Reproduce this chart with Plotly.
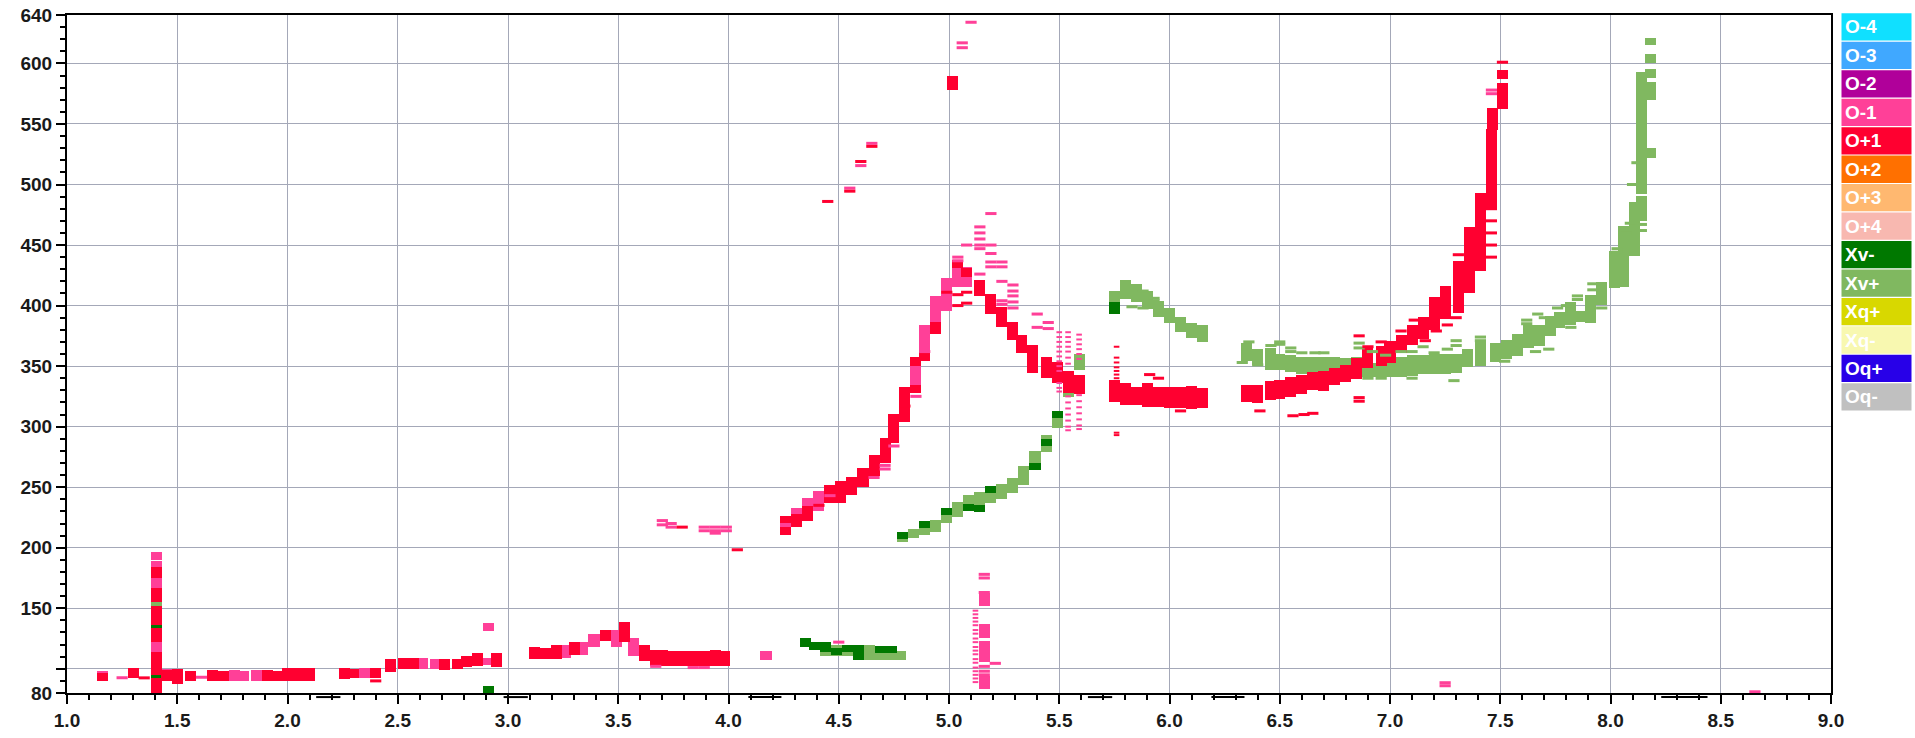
import plotly.graph_objects as go

# ---------------- data ----------------
x_ticks = [1.0, 1.5, 2.0, 2.5, 3.0, 3.5, 4.0, 4.5, 5.0, 5.5, 6.0, 6.5, 7.0, 7.5, 8.0, 8.5, 9.0]
y_ticks = [80, 100, 150, 200, 250, 300, 350, 400, 450, 500, 550, 600, 640]
y_tick_text = ["80", "", "150", "200", "250", "300", "350", "400", "450", "500", "550", "600", "640"]

legend_labels = ["O-4", "O-3", "O-2", "O-1", "O+1", "O+2", "O+3", "O+4",
                 "Xv-", "Xv+", "Xq+", "Xq-", "Oq+", "Oq-"]
legend_colors = ["#10E0FF", "#40A8FF", "#B0009A", "#FF4098", "#FF0030", "#FF7000", "#FFB870", "#F8B8B0",
                 "#007800", "#80B860", "#D8D800", "#F8F8B0", "#2800E8", "#C0C0C0"]

# O+1 (red) blocks: (x, low, high) -- low/high are the centres of the outermost dashes
red_blocks = [
    (1.16, 92, 95), (1.30, 94, 99),
    (1.405, 80, 91), (1.405, 97, 112), (1.405, 124, 132), (1.405, 138, 150), (1.405, 157, 165), (1.405, 177, 182),
    (1.45, 92, 97), (1.50, 89, 98), (1.56, 92, 96), (1.66, 92, 97), (1.71, 92, 96), (1.91, 92, 97),
    (1.95, 92, 96), (2.00, 92, 99), (2.05, 92, 99), (2.10, 92, 99),
    (2.26, 93, 99), (2.30, 94, 98), (2.40, 94, 99), (2.465, 99, 106), (2.525, 102, 107), (2.57, 102, 107),
    (2.71, 101, 106), (2.77, 102, 106), (2.81, 103, 109), (2.86, 104, 111), (2.95, 103, 111),
    (3.12, 110, 116), (3.17, 110, 115), (3.22, 110, 118), (3.30, 113, 120), (3.44, 125, 130), (3.53, 124, 137),
    (3.62, 108, 118), (3.67, 104, 114), (3.70, 104, 114), (3.75, 104, 113), (3.79, 104, 113), (3.84, 104, 113),
    (3.89, 104, 113), (3.94, 104, 114), (3.98, 104, 113),
    (4.26, 212, 215), (4.26, 222, 224), (4.31, 219, 226), (4.36, 224, 233), (4.46, 239, 250), (4.51, 239, 253),
    (4.56, 245, 257), (4.61, 252, 264), (4.66, 261, 275), (4.71, 272, 289), (4.75, 288, 309), (4.80, 306, 331),
    (4.85, 352, 356), (4.85, 330, 333), (4.89, 356, 360), (4.94, 378, 385), (5.04, 433, 436), (5.08, 425, 429),
    (5.14, 410, 419), (5.19, 395, 408), (5.24, 384, 397), (5.29, 373, 385), (5.33, 363, 374), (5.38, 353, 366),
    (5.38, 346, 350), (5.44, 342, 356), (5.49, 338, 352), (5.54, 330, 344), (5.59, 329, 341),
    (5.015, 580, 588),
    (5.75, 322, 337), (5.80, 320, 334), (5.85, 320, 331), (5.90, 318, 334), (5.95, 318, 331), (6.00, 317, 331),
    (6.05, 317, 331), (6.10, 316, 332), (6.15, 317, 330),
    (6.35, 322, 333), (6.40, 321, 333), (6.46, 324, 336), (6.50, 325, 337), (6.55, 326, 339), (6.60, 329, 341),
    (6.65, 332, 343), (6.70, 331, 344), (6.75, 336, 347), (6.80, 339, 349), (6.85, 341, 355), (6.90, 350, 363),
    (6.96, 352, 365), (7.00, 354, 369), (7.05, 363, 374), (7.10, 369, 382), (7.15, 374, 389), (7.20, 382, 405),
    (7.25, 391, 414), (7.31, 396, 435), (7.36, 412, 453), (7.36, 457, 463), (7.41, 430, 491), (7.46, 482, 544),
    (7.465, 547, 561), (7.51, 564, 582), (7.51, 589, 593),
]
red_dashes = [
    (1.35, 92.5), (2.40, 90), (3.79, 217), (4.04, 198.3), (4.41, 235), (4.45, 486), (4.55, 494.5), (4.60, 519),
    (4.65, 531.5), (4.80, 317), (4.99, 411), (5.04, 409), (5.04, 400), (5.08, 411), (5.08, 402), (5.91, 343),
    (5.95, 340), (6.05, 313), (6.41, 313), (6.56, 309), (6.61, 310), (6.65, 311), (6.86, 375), (6.86, 324),
    (6.86, 321), (7.46, 480), (7.46, 470), (7.46, 460), (7.46, 450), (7.46, 440), (7.51, 601), (7.21, 379),
    (7.26, 384), (7.16, 371), (7.31, 442), (6.96, 370), (7.05, 379), (7.11, 388), (7.30, 390), (6.90, 366),
]
red_dots = [
    (5.76, 366), (5.76, 357), (5.76, 353), (5.76, 349), (5.76, 346), (5.76, 343), (5.76, 340), (5.76, 295), (5.76, 293),
]

# O-1 (pink)
pink_blocks = [
    (1.16, 94, 96.5), (1.405, 165, 171), (1.405, 173, 175), (1.405, 185, 187), (1.405, 192, 195), (1.405, 112, 120),
    (1.45, 95, 98), (1.76, 92, 97), (1.80, 92, 96), (1.86, 92, 97), (2.35, 94, 99), (2.61, 102, 107), (2.67, 102, 106),
    (2.91, 133, 136), (2.91, 105, 107), (3.26, 111, 118), (3.34, 113, 120), (3.39, 120, 127), (3.49, 120, 130),
    (3.57, 112, 124), (4.17, 109, 113),
    (4.26, 214, 222), (4.31, 226, 231), (4.36, 232, 239), (4.41, 232, 245), (4.85, 333, 352), (4.89, 360, 382),
    (4.94, 386, 406), (4.99, 397, 421), (5.04, 417, 432), (5.08, 417, 430),
    (5.16, 154, 161), (5.16, 127, 135), (5.16, 107, 121), (5.16, 85, 92),
]
pink_dashes = [
    (1.25, 92.6), (1.61, 93), (3.70, 222.4), (3.70, 218.9), (3.74, 220), (3.74, 217), (3.89, 217), (3.89, 214),
    (3.94, 217), (3.94, 214), (3.94, 212), (3.99, 217), (3.99, 214), (3.67, 102), (3.84, 101), (3.89, 101),
    (4.46, 243), (4.55, 497), (4.60, 515.6), (4.65, 534), (4.66, 258), (4.71, 268), (4.71, 265), (4.75, 284),
    (4.85, 325), (4.89, 362), (5.04, 440), (5.04, 437), (5.08, 450), (5.14, 465), (5.14, 460), (5.14, 455),
    (5.14, 450), (5.14, 447), (5.14, 426), (5.19, 476), (5.19, 450), (5.19, 443), (5.19, 436), (5.19, 432),
    (5.24, 436), (5.24, 432), (5.24, 420), (5.24, 404), (5.24, 401), (5.29, 417), (5.29, 412), (5.29, 408),
    (5.29, 403), (5.29, 398), (5.40, 393), (5.40, 382), (5.45, 386), (5.45, 381), (5.06, 613), (5.06, 617),
    (5.10, 634), (7.46, 578), (7.46, 575), (7.25, 86), (7.25, 88.5), (8.655, 81), (5.16, 178), (5.16, 175),
    (5.16, 163), (5.16, 102), (5.16, 98), (5.16, 95), (5.21, 104.5), (4.50, 122),
]
pink_dots = [
    (5.12, 148), (5.12, 145), (5.12, 142), (5.12, 139), (5.12, 136), (5.12, 132), (5.12, 129), (5.12, 125),
    (5.12, 122), (5.12, 118), (5.12, 115), (5.12, 112), (5.12, 108), (5.12, 105), (5.12, 101), (5.12, 98),
    (5.12, 95), (5.12, 92), (5.12, 89),
    (5.50, 378), (5.50, 374), (5.50, 370), (5.50, 366), (5.50, 362), (5.50, 358), (5.50, 354), (5.50, 350),
    (5.50, 346), (5.50, 336), (5.50, 332), (5.50, 329),
    (5.54, 378), (5.54, 374), (5.54, 370), (5.54, 366), (5.54, 362), (5.54, 357), (5.54, 352), (5.54, 325),
    (5.54, 320), (5.54, 315), (5.54, 310), (5.54, 305), (5.54, 300), (5.54, 297),
    (5.59, 376), (5.59, 372), (5.59, 368), (5.59, 364), (5.59, 360), (5.59, 356), (5.59, 326), (5.59, 321),
    (5.59, 316), (5.59, 311), (5.59, 306), (5.59, 301), (5.59, 298),
]

# Xv+ (light green)
lgreen_blocks = [
    (1.405, 150, 154), (1.405, 122, 124), (1.405, 93, 97),
    (4.44, 112, 119), (4.49, 112, 118), (4.54, 112, 118), (4.59, 110, 118), (4.64, 109, 118), (4.69, 109, 116),
    (4.74, 109, 113), (4.78, 109, 113),
    (4.79, 206.5, 209), (4.84, 209.7, 214), (4.89, 212, 218), (4.94, 215, 221), (4.99, 222, 231), (5.04, 227, 236),
    (5.09, 232, 242), (5.14, 235, 244), (5.19, 239, 246), (5.24, 242, 251), (5.29, 247, 256), (5.34, 254, 266),
    (5.39, 267, 278), (5.44, 281, 291), (5.49, 301, 311), (5.54, 326, 331), (5.59, 349, 358),
    (5.75, 400, 410), (5.80, 407, 419), (5.85, 405, 416), (5.90, 399, 410), (5.95, 392, 402), (6.00, 387, 396),
    (6.05, 380, 389), (6.10, 375, 384), (6.15, 372, 382),
    (6.35, 356, 367), (6.40, 353, 362), (6.46, 349, 363), (6.50, 349, 358), (6.55, 347, 357), (6.60, 345.5, 356),
    (6.65, 345.5, 356), (6.70, 345.5, 356), (6.75, 346, 356), (6.80, 346, 355), (6.85, 345, 356), (6.90, 343, 351),
    (6.95, 343, 351), (7.00, 343, 351), (7.05, 343, 356), (7.10, 344, 357), (7.15, 345, 357), (7.20, 345, 358),
    (7.25, 345, 358), (7.30, 346, 358), (7.35, 351, 362), (7.41, 352, 368), (7.48, 355, 367), (7.53, 358, 370),
    (7.58, 360, 375), (7.63, 367, 382), (7.68, 368, 382), (7.73, 377, 390), (7.77, 383, 393), (7.82, 386, 401),
    (7.87, 388, 394), (7.91, 387, 407), (7.96, 402, 418), (8.02, 416, 443), (8.06, 417, 464), (8.11, 443, 484),
    (8.14, 472, 489), (8.14, 494, 528), (8.14, 531, 591), (8.18, 524, 528), (8.18, 572, 583), (8.18, 590, 594),
    (8.18, 602, 606), (8.18, 617, 619),
]
lgreen_dashes = [
    (6.36, 370), (6.33, 353), (6.40, 351), (6.46, 367), (6.50, 368), (6.50, 370), (6.55, 365), (6.55, 362),
    (6.60, 361), (6.66, 361), (6.70, 361), (6.86, 369), (6.86, 365), (6.92, 362), (6.98, 359), (7.05, 362),
    (7.10, 362), (7.15, 366), (7.20, 361), (7.26, 364), (7.30, 367), (7.30, 371), (7.41, 374), (7.41, 371),
    (6.90, 340), (6.96, 340), (7.10, 340), (7.29, 338), (7.52, 354), (7.62, 385), (7.62, 388), (7.67, 393),
    (7.70, 390), (7.76, 398), (7.80, 400), (7.85, 405), (7.85, 408), (7.92, 413), (7.92, 418), (8.03, 447),
    (8.03, 444), (8.07, 460), (8.09, 468), (8.10, 500), (8.12, 518), (5.83, 399), (5.88, 412), (5.93, 406),
    (5.93, 404), (5.88, 398), (7.66, 362), (7.72, 364), (7.82, 382), (7.96, 398), (8.14, 467), (8.14, 462),
]

# Xv- (dark green)
dgreen_blocks = [
    (1.405, 134, 136), (1.405, 116, 122), (1.405, 111, 113), (1.405, 91, 93), (2.91, 81, 84),
    (4.35, 119.5, 124), (4.39, 117.5, 120), (4.44, 116, 120), (4.49, 113, 115), (4.54, 116, 118), (4.59, 109, 112),
    (4.59, 116, 118), (4.69, 115, 117), (4.74, 115, 117),
    (4.79, 209, 211), (4.89, 218, 220), (4.99, 229, 231), (5.09, 232.5, 234.5), (5.14, 231.5, 233.5),
    (5.19, 247, 249), (5.39, 266, 268), (5.44, 286, 288), (5.49, 309, 311), (5.75, 395, 401),
]

# small brackets drawn just under the x axis: (start, end)
axis_brackets = [(2.13, 2.24), (2.98, 3.09), (4.09, 4.24), (5.63, 5.74), (6.19, 6.34), (8.23, 8.44)]

# ---------------- figure ----------------
RED, PINK, LGREEN, DGREEN = legend_colors[4], legend_colors[3], legend_colors[9], legend_colors[8]
BAR_W = 0.05       # block width in x units
HALF_DASH = 1.8    # half the thickness of one dash, in y units (blocks are stacks of dashes)
DASH_LEN, DASH_THICK = 8, 3

fig = go.Figure()


def add_blocks(blocks, color):
    xs = [b[0] for b in blocks]
    lo = [b[1] - HALF_DASH for b in blocks]
    hi = [b[2] + HALF_DASH for b in blocks]
    fig.add_trace(go.Bar(x=xs, y=[h - l for l, h in zip(lo, hi)], base=lo, width=BAR_W,
                         marker=dict(color=color, line=dict(width=0)), showlegend=False,
                         hoverinfo="skip"))


def add_dashes(points, color, length, thick):
    fig.add_trace(go.Scatter(x=[p[0] for p in points], y=[p[1] for p in points], mode="markers",
                             marker=dict(symbol="line-ew", size=length,
                                         line=dict(color=color, width=thick)),
                             showlegend=False, hoverinfo="skip"))


add_blocks(lgreen_blocks, LGREEN)
add_dashes(lgreen_dashes, LGREEN, DASH_LEN, DASH_THICK)
add_blocks(dgreen_blocks, DGREEN)
add_blocks(pink_blocks, PINK)
add_dashes(pink_dashes, PINK, DASH_LEN, DASH_THICK)
add_dashes(pink_dots, PINK, 4, 2)
add_blocks(red_blocks, RED)
add_dashes(red_dashes, RED, DASH_LEN, DASH_THICK)
add_dashes(red_dots, RED, 4, 2)

axis_font = dict(family="Liberation Sans, Arial, sans-serif", size=19, color="#1a1a1a", weight="bold")
grid_col = "#A4A8B8"

fig.update_layout(
    width=1915, height=738,
    margin=dict(l=67, r=84, t=15, b=45, autoexpand=False),
    paper_bgcolor="white", plot_bgcolor="white",
    barmode="overlay", bargap=0,
    showlegend=False,
    xaxis=dict(range=[1, 9], tickvals=x_ticks, ticktext=[f"{v:.1f}" for v in x_ticks],
               automargin=False,
               showgrid=True, gridcolor=grid_col, gridwidth=1,
               showline=True, linecolor="black", linewidth=2, mirror=True,
               ticks="outside", ticklen=9, tickwidth=2, tickcolor="black",
               minor=dict(dtick=0.1, tick0=1, ticks="outside", ticklen=5, tickwidth=1.5,
                          tickcolor="black", showgrid=False),
               zeroline=False, tickfont=axis_font),
    yaxis=dict(range=[80, 640], tickvals=y_ticks, ticktext=y_tick_text,
               automargin=False,
               showgrid=True, gridcolor=grid_col, gridwidth=1,
               showline=True, linecolor="black", linewidth=2, mirror=True,
               ticks="outside", ticklen=9, tickwidth=2, tickcolor="black",
               minor=dict(dtick=10, tick0=80, ticks="outside", ticklen=5, tickwidth=1.5,
                          tickcolor="black", showgrid=False),
               zeroline=False, tickfont=axis_font),
)

# brackets under the x axis
for a, b in axis_brackets:
    fig.add_shape(type="line", xref="x", yref="paper", x0=a, x1=b, y0=-0.006, y1=-0.006,
                  line=dict(color="black", width=2))

# legend as coloured boxes with white labels
plot_w = 1915 - 67 - 84
plot_h = 738 - 15 - 45
box_x0 = (1841.5 - 67) / plot_w
box_x1 = (1911.5 - 67) / plot_w
pitch = 28.46
box_h = 27.3
for i, (lab, col) in enumerate(zip(legend_labels, legend_colors)):
    top_px = 13.3 + i * pitch
    y1 = (738 - 45 - top_px) / plot_h
    y0 = (738 - 45 - top_px - box_h) / plot_h
    fig.add_shape(type="rect", xref="paper", yref="paper", x0=box_x0, x1=box_x1, y0=y0, y1=y1,
                  fillcolor=col, line=dict(width=0), layer="above")
    fig.add_annotation(xref="paper", yref="paper", x=box_x0 + 1.5 / plot_w, y=(y0 + y1) / 2,
                       text=lab, showarrow=False, xanchor="left", yanchor="middle",
                       font=dict(family="Liberation Sans, Arial, sans-serif", size=19,
                                 color="white", weight="bold"))

fig.write_html("out.html", config={"displayModeBar": False},
               post_script="document.body.style.margin='0';")
